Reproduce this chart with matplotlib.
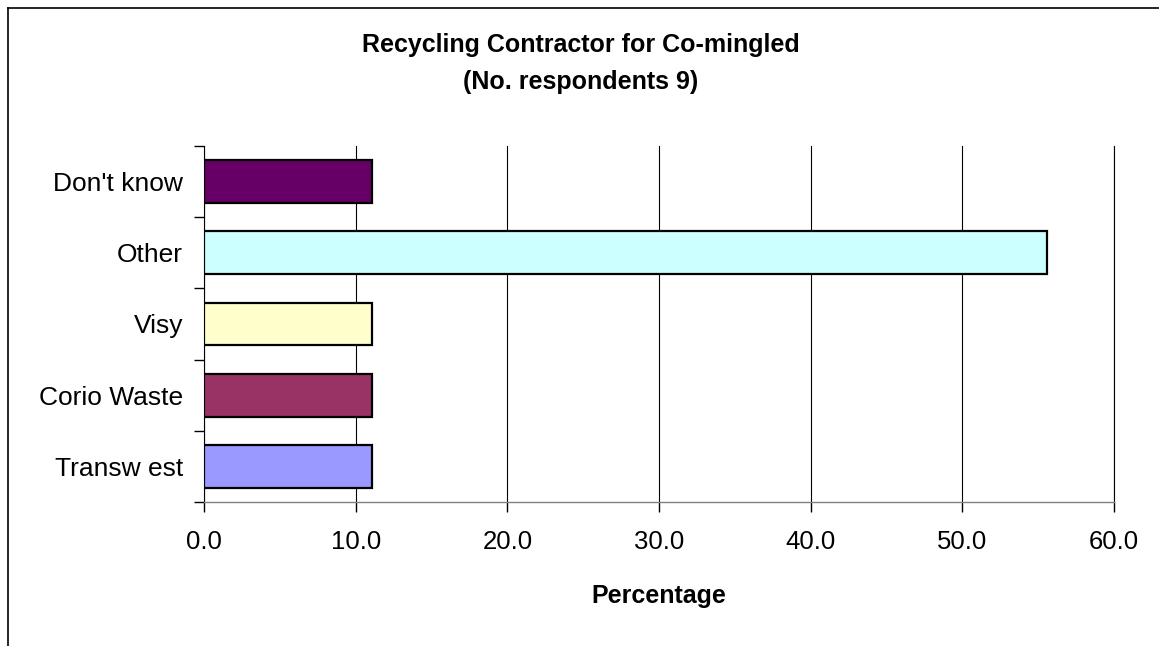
import matplotlib
matplotlib.use("Agg")
import matplotlib.pyplot as plt
from matplotlib.lines import Line2D
from matplotlib.ticker import FixedLocator

categories = ["Transw est", "Corio Waste", "Visy", "Other", "Don't know"]
values = [11.1, 11.1, 11.1, 55.6, 11.1]
colors = ["#9999FF", "#993366", "#FFFFCC", "#CCFFFF", "#660066"]
xticks = [0, 10, 20, 30, 40, 50, 60]
xticklabels = ["0.0", "10.0", "20.0", "30.0", "40.0", "50.0", "60.0"]
title_lines = ["Recycling Contractor for Co-mingled", "(No. respondents 9)"]
xlabel = "Percentage"

plt.rcParams["font.family"] = ["Liberation Sans", "DejaVu Sans"]

W, H = 1159, 646
fig = plt.figure(figsize=(W / 100, H / 100), dpi=100)
fig.patch.set_facecolor("white")

ax = fig.add_axes([204 / W, 1 - 502 / H, (1114 - 204) / W, (502 - 146) / H])
ypos = list(range(len(categories)))
ax.barh(ypos, values, height=0.6, color=colors, edgecolor="black", linewidth=1.6, zorder=3)

ax.set_xlim(0, 60)
ax.set_ylim(-0.5, len(categories) - 0.5)
ax.set_xticks(xticks)
ax.set_xticklabels(xticklabels, fontsize=18.5)
ax.set_yticks(ypos)
ax.set_yticklabels(categories, fontsize=19)
ax.yaxis.set_minor_locator(FixedLocator([i - 0.5 for i in range(len(categories) + 1)]))
ax.tick_params(axis="y", which="major", length=0, pad=15)
ax.tick_params(axis="y", which="minor", length=7, width=1, color="black", direction="out")
ax.tick_params(axis="x", which="major", length=7, width=1, color="black", direction="out", pad=13)

ax.grid(axis="x", color="black", linewidth=0.8, zorder=0)
ax.spines["top"].set_visible(False)
ax.spines["right"].set_color("black")
ax.spines["right"].set_linewidth(0.8)
ax.spines["left"].set_color("black")
ax.spines["left"].set_linewidth(0.8)
ax.spines["bottom"].set_color("#808080")
ax.spines["bottom"].set_linewidth(1.0)

ax.set_xlabel(xlabel, fontsize=18, fontweight="bold", labelpad=22)

fig.text(581 / W, 1 - 45 / H, title_lines[0], ha="center", va="center", fontsize=18, fontweight="bold")
fig.text(581 / W, 1 - 82 / H, title_lines[1], ha="center", va="center", fontsize=18, fontweight="bold")

# outer chart frame (left and top edges visible)
fig.add_artist(Line2D([7.5 / W, 7.5 / W], [0, 1 - 7.5 / H], color="black", linewidth=1.2, transform=fig.transFigure))
fig.add_artist(Line2D([7.5 / W, 1.0], [1 - 7.5 / H, 1 - 7.5 / H], color="black", linewidth=1.2, transform=fig.transFigure))

fig.savefig("out.png", dpi=100)
